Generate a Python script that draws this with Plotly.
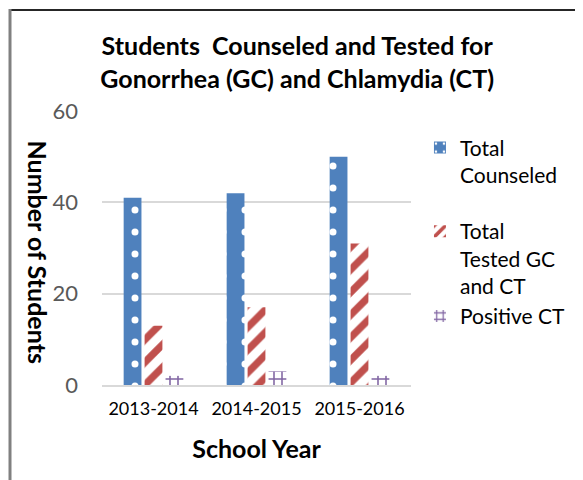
import plotly.graph_objects as go

years = ["2013-2014", "2014-2015", "2015-2016"]
total_counseled = [41, 42, 50]
total_tested = [13, 17, 31]
positive_ct = [2, 3, 2]
y_ticks = [0, 20, 40, 60]

FONT = "Lato"
fig = go.Figure()
fig.add_trace(go.Bar(
    x=years, y=total_counseled, name="Total<br>Counseled", legendgroup="a",
    marker=dict(color="#4F81BD", line=dict(width=0),
                pattern=dict(shape=".", fgcolor="white", bgcolor="#4F81BD", fgopacity=1,
                             size=22, solidity=0.08, fillmode="replace")),
))
fig.add_trace(go.Bar(
    x=years, y=total_tested, name="Total<br>Tested GC<br>and CT", legendgroup="b",
    marker=dict(color="#C0504D", line=dict(width=0),
                pattern=dict(shape="/", fgcolor="#C0504D", bgcolor="white", fgopacity=1,
                             size=16, solidity=0.45, fillmode="replace")),
))
fig.add_trace(go.Bar(
    x=years, y=positive_ct, name="Positive CT", legendgroup="b",
    marker=dict(color="#8064A2", line=dict(width=0),
                pattern=dict(shape="+", fgcolor="#8064A2", bgcolor="white", fgopacity=1,
                             size=8, solidity=0.35, fillmode="replace")),
))

fig.update_layout(
    width=583, height=480,
    margin=dict(l=94, r=180, t=103, b=103),
    paper_bgcolor="white", plot_bgcolor="white",
    font=dict(family=FONT, size=18, color="#000000"),
    barmode="group", bargap=0.39, bargroupgap=0.15,
    title=dict(text="<b>Students  Counseled and Tested for<br>Gonorrhea (GC) and Chlamydia (CT)</b>",
               x=0.496, xref="container", xanchor="center", y=1 - 47/480, yref="container", yanchor="top",
               font=dict(family=FONT, size=25, color="#000000")),
    legend=dict(x=1.029, xanchor="left", y=0.94, yanchor="top", valign="top",
                font=dict(family=FONT, size=21, color="#000000"), tracegroupgap=26,
                bgcolor="rgba(0,0,0,0)"),
    xaxis=dict(showgrid=False, showline=True, linecolor="#D9D9D9", linewidth=2, ticks="",
               ticklabelstandoff=6,
               tickfont=dict(family=FONT, size=18, color="#000000"),
               title=dict(text="<b>School Year</b>", font=dict(family=FONT, size=25, color="#000000"), standoff=23)),
    yaxis=dict(range=[0, 60], tickvals=y_ticks, showgrid=True, gridcolor="#D9D9D9", gridwidth=2,
               zeroline=False, showline=False, ticks="", ticklen=0, ticklabelstandoff=23,
               tickfont=dict(family=FONT, size=22, color="#595959")),
    annotations=[dict(text="<b>Number of Students</b>", textangle=90, x=-0.262, y=0.487,
                      xref="paper", yref="paper", showarrow=False,
                      font=dict(family=FONT, size=25, color="#000000"))],
    shapes=[
        dict(type="line", xref="paper", yref="paper", x0=-0.2977, x1=1.8, y0=1.3686, y1=1.3686,
             line=dict(color="#262626", width=2)),
        dict(type="line", xref="paper", yref="paper", x0=-0.2977, x1=-0.2977, y0=1.3723, y1=-0.5,
             line=dict(color="#808080", width=3)),
    ],
)

fig.write_html("out.html")
